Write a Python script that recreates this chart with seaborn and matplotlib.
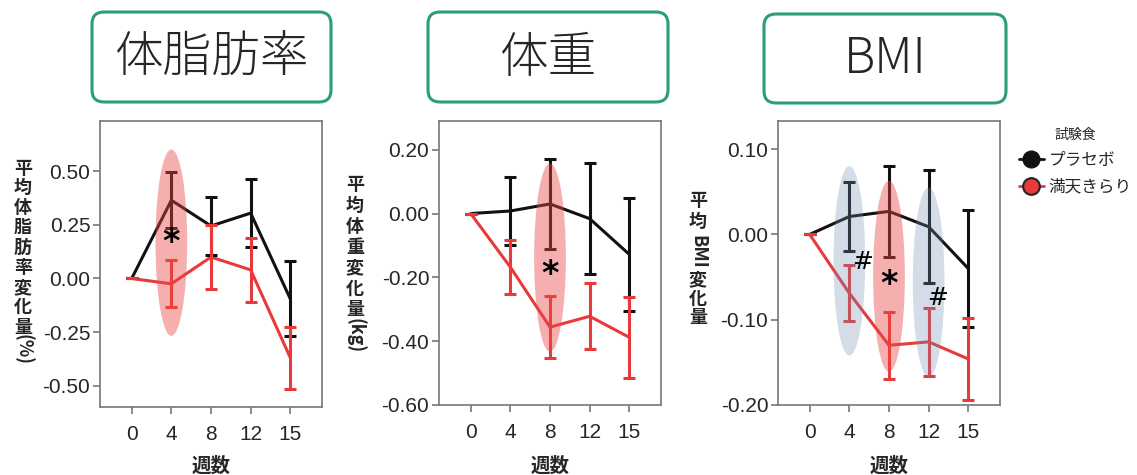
import numpy as np
import pandas as pd
import matplotlib
matplotlib.use("Agg")
import matplotlib.pyplot as plt
from matplotlib.patches import Ellipse, FancyBboxPatch
from matplotlib.lines import Line2D
import seaborn as sns

# ---- data ----
weeks = ["0", "4", "8", "12", "15"]
groups = ["プラセボ", "満天きらり"]

fat_placebo_mean = [0.0, 0.365, 0.245, 0.305, -0.095]
fat_placebo_se = [0.0, 0.13, 0.135, 0.16, 0.175]
fat_kirari_mean = [0.0, -0.025, 0.10, 0.04, -0.37]
fat_kirari_se = [0.0, 0.11, 0.15, 0.15, 0.145]

weight_placebo_mean = [0.0, 0.008, 0.03, -0.016, -0.128]
weight_placebo_se = [0.0, 0.108, 0.142, 0.175, 0.178]
weight_kirari_mean = [0.0, -0.168, -0.356, -0.322, -0.388]
weight_kirari_se = [0.0, 0.085, 0.097, 0.103, 0.128]

bmi_placebo_mean = [0.0, 0.021, 0.027, 0.009, -0.040]
bmi_placebo_se = [0.0, 0.041, 0.053, 0.066, 0.069]
bmi_kirari_mean = [0.0, -0.069, -0.130, -0.126, -0.146]
bmi_kirari_se = [0.0, 0.033, 0.039, 0.040, 0.048]

panel_titles = ["体脂肪率", "体重", "BMI"]
fat_ticks = [-0.50, -0.25, 0.00, 0.25, 0.50]
weight_ticks = [-0.60, -0.40, -0.20, 0.00, 0.20]
bmi_ticks = [-0.20, -0.10, 0.00, 0.10]

# highlighted weeks: (week, y centre, height, kind)
fat_highlights = [("4", 0.167, 0.87, "red")]
weight_highlights = [("8", -0.138, 0.59, "red")]
bmi_highlights = [("4", -0.031, 0.222, "blue"), ("8", -0.049, 0.224, "red"),
                  ("12", -0.056, 0.222, "blue")]

# significance marks: (symbol, week, offset in categories, y)
fat_marks = [("*", "4", 0.0, 0.17)]
weight_marks = [("*", "8", 0.0, -0.19)]
bmi_marks = [("#", "4", 0.34, -0.032), ("*", "8", 0.0, -0.059), ("#", "12", 0.23, -0.074)]

BLACK = "#111111"
RED = "#e83a3a"
GREEN = "#2a9e78"
SPINE = "#777777"
HL_COLORS = {"red": ("#e94747", 0.43), "blue": ("#6e8cb0", 0.30)}

sns.set_style("ticks")
plt.rcParams["font.family"] = ["Liberation Sans", "Noto Sans CJK JP", "DejaVu Sans"]
CJK = ["Noto Sans CJK JP", "DejaVu Sans"]

fig = plt.figure(figsize=(11.37, 4.75), dpi=100)

# overlay in pixel coordinates for titles / labels
over = fig.add_axes([0, 0, 1, 1], zorder=-5)
over.set_xlim(0, 1137)
over.set_ylim(475, 0)
over.axis("off")

panels = [
    dict(rect=[100, 121, 222, 286], ylim=(-0.60, 0.735), ticks=fat_ticks,
         series=[(fat_placebo_mean, fat_placebo_se), (fat_kirari_mean, fat_kirari_se)],
         highlights=fat_highlights, marks=fat_marks,
         label=("平均体脂肪率変化量", "(%)"), lab_x=23, lab_y0=168, lab_step=19.9, tail_y=350,
         box=(92, 12, 239, 90)),
    dict(rect=[439, 121, 222, 284], ylim=(-0.60, 0.29), ticks=weight_ticks,
         series=[(weight_placebo_mean, weight_placebo_se), (weight_kirari_mean, weight_kirari_se)],
         highlights=weight_highlights, marks=weight_marks,
         label=("平均体重変化量", "(kg)"), lab_x=355, lab_y0=185, lab_step=20.8, tail_y=336,
         box=(428, 12, 240, 90)),
    dict(rect=[778, 121, 222, 284], ylim=(-0.20, 0.133), ticks=bmi_ticks,
         series=[(bmi_placebo_mean, bmi_placebo_se), (bmi_kirari_mean, bmi_kirari_se)],
         highlights=bmi_highlights, marks=bmi_marks,
         label=None, lab_x=698, box=(764, 14, 242, 89)),
]

W, H = 1137, 475
x_idx = np.arange(len(weeks))

for p, title in zip(panels, panel_titles):
    l, t, w, h = p["rect"]
    ax = fig.add_axes([l / W, 1 - (t + h) / H, w / W, h / H])

    df = pd.DataFrame({
        "week": np.tile(x_idx, 2),
        "value": np.concatenate([p["series"][0][0], p["series"][1][0]]),
        "group": np.repeat(groups, len(weeks)),
    })
    sns.lineplot(data=df, x="week", y="value", hue="group", palette=[BLACK, RED],
                 linewidth=2.2, legend=False, ax=ax, zorder=2)
    for (mean, se), col in zip(p["series"], [BLACK, RED]):
        ax.errorbar(x_idx, mean, yerr=se, fmt="none", ecolor=col, elinewidth=2.2,
                    capsize=4, capthick=2.2, zorder=2)

    for wk, yc, hh, kind in p["highlights"]:
        c, a = HL_COLORS[kind]
        ax.add_patch(Ellipse((weeks.index(wk), yc), 0.8, hh, facecolor=c, alpha=a,
                             edgecolor="none", zorder=3))
    for sym, wk, off, yv in p["marks"]:
        ax.text(weeks.index(wk) + off, yv, sym, ha="center", va="center",
                fontsize=24 if sym == "*" else 18, family="DejaVu Sans",
                fontweight="bold" if sym == "*" else "normal",
                color="black", zorder=5)

    ax.set_xlim(-0.8, 4.8)
    ax.set_ylim(*p["ylim"])
    ax.set_xticks(x_idx)
    ax.set_xticklabels(weeks)
    ax.set_yticks(p["ticks"])
    ax.set_yticklabels([f"{v:.2f}" for v in p["ticks"]])
    ax.tick_params(axis="both", labelsize=15, length=5, width=1.2, color=SPINE, direction="out")
    ax.tick_params(axis="x", pad=8)
    ax.tick_params(axis="y", pad=2)
    ax.set_xlabel("")
    ax.set_ylabel("")
    for s in ax.spines.values():
        s.set_visible(True)
        s.set_color(SPINE)
        s.set_linewidth(1.2)

    # x label
    over.text(l + w / 2, 466, "週数", ha="center", va="center", fontsize=14,
              fontweight="bold", family=CJK)

    # vertical y label (upright kana/kanji, rotated latin)
    if p["label"] is not None:
        chars, tail = p["label"]
        for i, ch in enumerate(chars):
            over.text(p["lab_x"], p["lab_y0"] + i * p["lab_step"], ch, ha="center", va="center",
                      fontsize=13, fontweight="bold", family=CJK)
        over.text(p["lab_x"], p["tail_y"], tail, ha="center", va="center", rotation=-90,
                  fontsize=13, fontweight="bold", family=CJK)
    else:
        x0 = p["lab_x"]
        for ch, yy in [("平", 201), ("均", 221)]:
            over.text(x0, yy, ch, ha="center", va="center", fontsize=13, fontweight="bold", family=CJK)
        over.text(x0, 252, "BMI", ha="center", va="center", rotation=-90, fontsize=13,
                  fontweight="bold", family=CJK)
        for ch, yy in [("変", 280), ("化", 299), ("量", 318)]:
            over.text(x0, yy, ch, ha="center", va="center", fontsize=13, fontweight="bold", family=CJK)

    # title box
    bx, by, bw, bh = p["box"]
    over.add_patch(FancyBboxPatch((bx + 12, by + 12), bw - 24, bh - 24,
                                  boxstyle="round,pad=12", facecolor="white",
                                  edgecolor=GREEN, linewidth=2.2))
    over.text(bx + bw / 2, by + bh / 2 + 1, title, ha="center", va="center", fontsize=35,
              fontweight="light", family=CJK)

handles = [
    Line2D([], [], color=BLACK, linewidth=2.0, marker="o", markersize=12,
           markerfacecolor=BLACK, markeredgecolor=BLACK),
    Line2D([], [], color=RED, linewidth=2.0, marker="o", markersize=12,
           markerfacecolor=RED, markeredgecolor="#222222", markeredgewidth=1.5),
]
leg = fig.legend(handles, groups, title="試験食", loc="upper left",
                 bbox_to_anchor=(1012 / W, 1 - 121 / H), frameon=False,
                 prop={"family": CJK, "size": 12}, handlelength=1.5, handletextpad=0.3,
                 labelspacing=0.6, borderaxespad=0)
leg.get_title().set_fontfamily(CJK)
leg.get_title().set_fontsize(10)

fig.savefig("out.png", dpi=100)
